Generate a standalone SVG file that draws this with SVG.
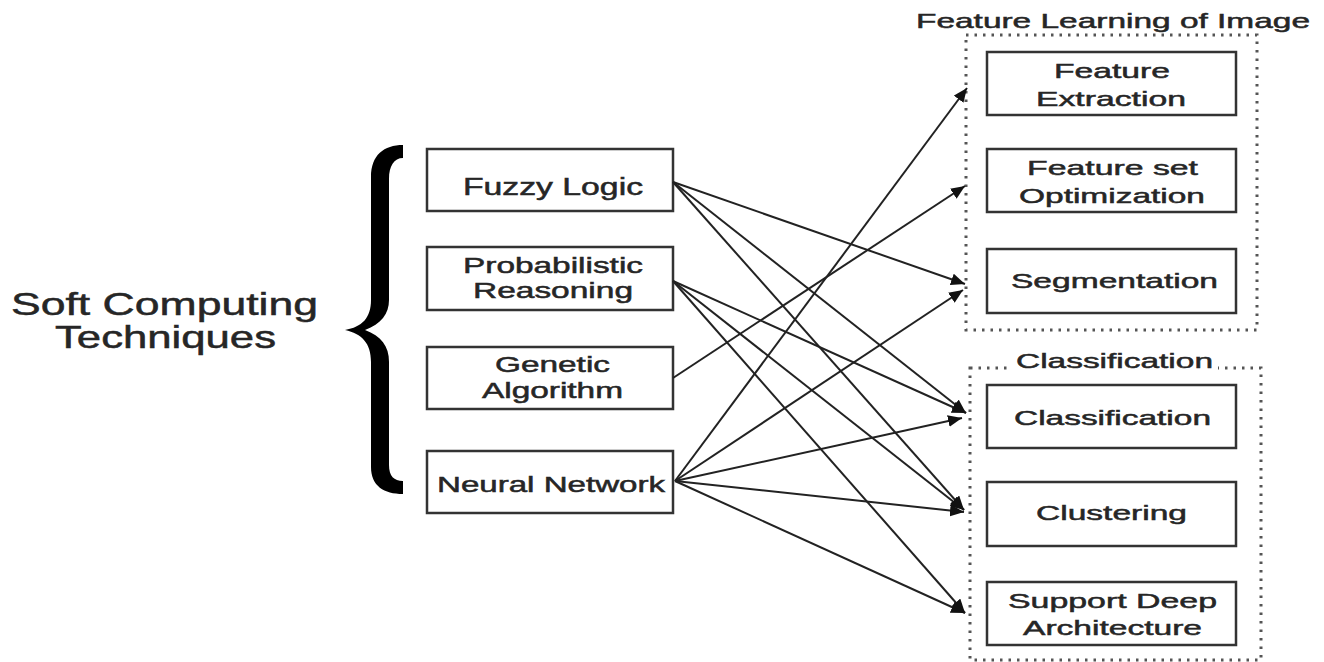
<svg xmlns="http://www.w3.org/2000/svg" width="1324" height="662" viewBox="0 0 1324 662">
<style>
  .box { fill: #fff; stroke: #333; stroke-width: 2.5; }
  .grp { fill: none; stroke: #555; stroke-width: 3; stroke-dasharray: 2.5 6; }
  .t { font-family: "Liberation Sans", Arial, sans-serif; fill: #262626; stroke: #262626; stroke-width: 0.5; }
  .lt { font-size: 22px; }
  .rt { font-size: 21px; }
  .big { font-size: 32px; }
  .conn line { stroke: #222; stroke-width: 2; marker-end: url(#ah); }
</style>
<defs>
  <marker id="ah" markerUnits="userSpaceOnUse" markerWidth="15" markerHeight="12" refX="14" refY="6" orient="auto">
    <path d="M0,0 L14,6 L0,12 Z" fill="#111"/>
  </marker>
</defs>
<rect width="1324" height="662" fill="#fff"/>

<g id="soft-computing">
  <text class="t big" x="11" y="315" textLength="307" lengthAdjust="spacingAndGlyphs">Soft Computing</text>
  <text class="t big" x="55" y="348" textLength="221" lengthAdjust="spacingAndGlyphs">Techniques</text>
</g>

<g id="brace">
  <path d="M403,145 C384,145 371,155 371,177 L371,300 C371,318 362,327 345,330 C362,334 371,343 371,362 L371,467 C371,486 384,494 403,494 L403,481 C394,481 389,476 389,465 L389,362 C389,346 381,336 365,330 C381,324 389,314 389,300 L389,179 C389,166 394,158 403,158 Z" fill="#000"/>
</g>

<g id="fuzzy-logic">
  <rect class="box" x="427" y="149" width="246" height="62"/>
  <text class="t lt" x="463" y="195" textLength="180" lengthAdjust="spacingAndGlyphs" style="font-size:23px">Fuzzy Logic</text>
</g>
<g id="probabilistic-reasoning">
  <rect class="box" x="427" y="247" width="246" height="63"/>
  <text class="t lt" x="463" y="273" textLength="180" lengthAdjust="spacingAndGlyphs">Probabilistic</text>
  <text class="t lt" x="473" y="298" textLength="160" lengthAdjust="spacingAndGlyphs">Reasoning</text>
</g>
<g id="genetic-algorithm">
  <rect class="box" x="427" y="347" width="246" height="62"/>
  <text class="t lt" x="495" y="372" textLength="115" lengthAdjust="spacingAndGlyphs">Genetic</text>
  <text class="t lt" x="482" y="398" textLength="141" lengthAdjust="spacingAndGlyphs">Algorithm</text>
</g>
<g id="neural-network">
  <rect class="box" x="427" y="451" width="246" height="62"/>
  <text class="t lt" x="437" y="492" textLength="228" lengthAdjust="spacingAndGlyphs">Neural Network</text>
</g>

<g id="feature-learning-group">
  <rect class="grp" x="966" y="35" width="291" height="295"/>
  <text class="t rt" x="916" y="28" textLength="394" lengthAdjust="spacingAndGlyphs">Feature Learning of Image</text>
</g>
<g id="feature-extraction">
  <rect class="box" x="987" y="52" width="249" height="63"/>
  <text class="t rt" x="1054" y="78" textLength="116" lengthAdjust="spacingAndGlyphs">Feature</text>
  <text class="t rt" x="1036" y="106" textLength="150" lengthAdjust="spacingAndGlyphs">Extraction</text>
</g>
<g id="feature-set-optimization">
  <rect class="box" x="987" y="149" width="249" height="63"/>
  <text class="t rt" x="1027" y="175" textLength="171" lengthAdjust="spacingAndGlyphs">Feature set</text>
  <text class="t rt" x="1019" y="203" textLength="186" lengthAdjust="spacingAndGlyphs">Optimization</text>
</g>
<g id="segmentation">
  <rect class="box" x="987" y="249" width="249" height="64"/>
  <text class="t rt" x="1011" y="288" textLength="207" lengthAdjust="spacingAndGlyphs">Segmentation</text>
</g>

<g id="classification-group">
  <rect class="grp" x="970" y="368" width="291" height="292"/>
  <rect x="1012" y="352" width="206" height="22" fill="#fff"/>
  <text class="t rt" x="1016" y="368" textLength="197" lengthAdjust="spacingAndGlyphs">Classification</text>
</g>
<g id="classification">
  <rect class="box" x="987" y="385" width="249" height="63"/>
  <text class="t rt" x="1014" y="425" textLength="197" lengthAdjust="spacingAndGlyphs">Classification</text>
</g>
<g id="clustering">
  <rect class="box" x="987" y="482" width="249" height="64"/>
  <text class="t rt" x="1036" y="520" textLength="151" lengthAdjust="spacingAndGlyphs">Clustering</text>
</g>
<g id="support-deep-architecture">
  <rect class="box" x="987" y="582" width="249" height="63"/>
  <text class="t rt" x="1008" y="608" textLength="209" lengthAdjust="spacingAndGlyphs">Support Deep</text>
  <text class="t rt" x="1023" y="635" textLength="179" lengthAdjust="spacingAndGlyphs">Architecture</text>
</g>

<g id="connectors" class="conn">
  <line x1="673" y1="182" x2="965" y2="284"/>
  <line x1="673" y1="182" x2="966" y2="413"/>
  <line x1="673" y1="182" x2="964" y2="510"/>
  <line x1="673" y1="281" x2="966" y2="413"/>
  <line x1="673" y1="281" x2="964" y2="510"/>
  <line x1="673" y1="281" x2="965" y2="613"/>
  <line x1="673" y1="378" x2="965" y2="186"/>
  <line x1="675" y1="481" x2="967" y2="88"/>
  <line x1="675" y1="481" x2="963" y2="290"/>
  <line x1="675" y1="481" x2="962" y2="418"/>
  <line x1="675" y1="481" x2="964" y2="512"/>
  <line x1="675" y1="481" x2="965" y2="613"/>
</g>
</svg>
